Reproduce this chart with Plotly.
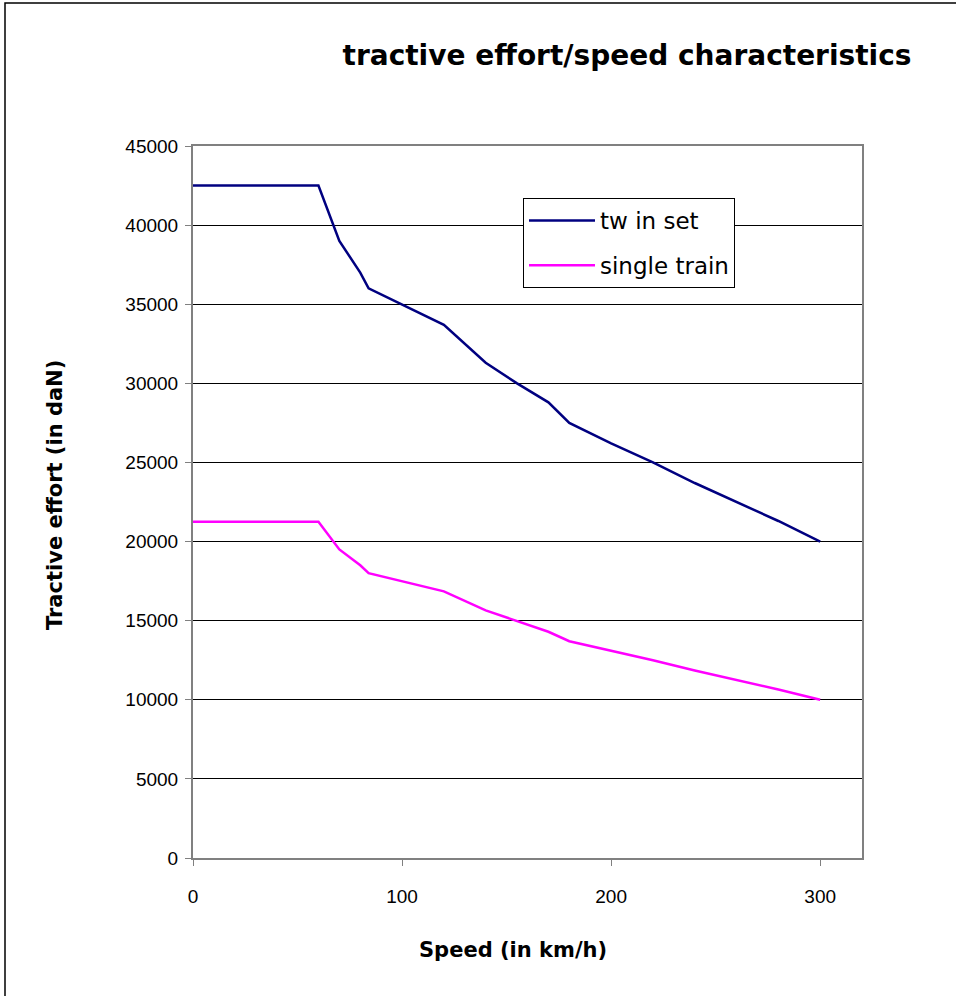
import plotly.graph_objects as go

speed = [0, 60, 70, 80, 84, 120, 140, 155, 170, 180, 200, 220, 240, 260, 280, 300]
twin_set = [42500, 42500, 39000, 37000, 36000, 33700, 31300, 30000, 28800, 27500, 26200, 25000, 23700, 22500, 21300, 20000]
single_train = [21250, 21250, 19500, 18500, 18000, 16850, 15650, 15000, 14300, 13700, 13100, 12500, 11850, 11250, 10650, 10000]

x_ticks = [0, 100, 200, 300]
y_ticks = list(range(0, 45001, 5000))

W, H = 956, 996
L, R, T, B = 193, 94, 146, 138
pw, ph = W - L - R, H - T - B

fig = go.Figure()
fig.add_trace(go.Scatter(x=speed, y=twin_set, mode="lines", name="tw in set",
                         line=dict(color="#000080", width=2.5), legendgroup="a"))
fig.add_trace(go.Scatter(x=speed, y=single_train, mode="lines", name="single train",
                         line=dict(color="#FF00FF", width=2.5), legendgroup="b"))

tick_font = "Liberation Sans, Arial, sans-serif"
title_font = "DejaVu Sans, sans-serif"
fig.update_layout(
    width=W, height=H,
    margin=dict(l=L, r=R, t=T, b=B),
    paper_bgcolor="white", plot_bgcolor="white",
    font=dict(family=tick_font, color="black", size=19),
    title=dict(text="<b>tractive effort/speed characteristics</b>",
               x=627 / W, xanchor="center", y=1 - 55 / H, yanchor="middle",
               font=dict(size=28, family=title_font)),
    showlegend=True,
    legend=dict(x=(523 - L) / pw, y=(858 - 198) / ph,
                xanchor="left", yanchor="top",
                bgcolor="white", bordercolor="black", borderwidth=1,
                font=dict(size=23, family=title_font), tracegroupgap=12,
                traceorder="grouped", itemwidth=66),
    xaxis=dict(range=[0, 320], tickvals=x_ticks, showgrid=False, zeroline=False,
               showline=True, linecolor="#808080", linewidth=2, mirror=True,
               ticks="outside", ticklen=6, tickcolor="#808080", tickwidth=1,
               tickfont=dict(size=19), ticklabelstandoff=14),
    yaxis=dict(range=[0, 45000], tickvals=y_ticks, tickformat="d",
               showgrid=True, gridcolor="black", gridwidth=1, zeroline=False,
               showline=True, linecolor="#808080", linewidth=2, mirror=True,
               ticks="outside", ticklen=6, tickcolor="#808080", tickwidth=1,
               tickfont=dict(size=19), ticklabelstandoff=3),
)

# axis titles as annotations for exact placement
fig.add_annotation(text="<b>Speed (in km/h)</b>", xref="paper", yref="paper",
                   x=(513 - L) / pw, y=(858 - 950) / ph, xanchor="center", yanchor="middle",
                   showarrow=False, font=dict(size=21, family=title_font, color="black"))
fig.add_annotation(text="<b>Tractive effort (in daN)</b>", xref="paper", yref="paper",
                   x=(55 - L) / pw, y=(858 - 495) / ph, xanchor="center", yanchor="middle",
                   textangle=-90, showarrow=False,
                   font=dict(size=21, family=title_font, color="black"))

fig.add_shape(type="rect", xref="paper", yref="paper",
              x0=(5 - L) / pw, x1=(W + 20 - L) / pw,
              y0=(858 - H - 20) / ph, y1=(858 - 3) / ph,
              line=dict(color="black", width=1.5), fillcolor="rgba(0,0,0,0)", layer="below")

fig.write_html("out.html", config=dict(displayModeBar=False),
               post_script="document.body.style.margin='0';document.body.style.overflow='hidden';")
